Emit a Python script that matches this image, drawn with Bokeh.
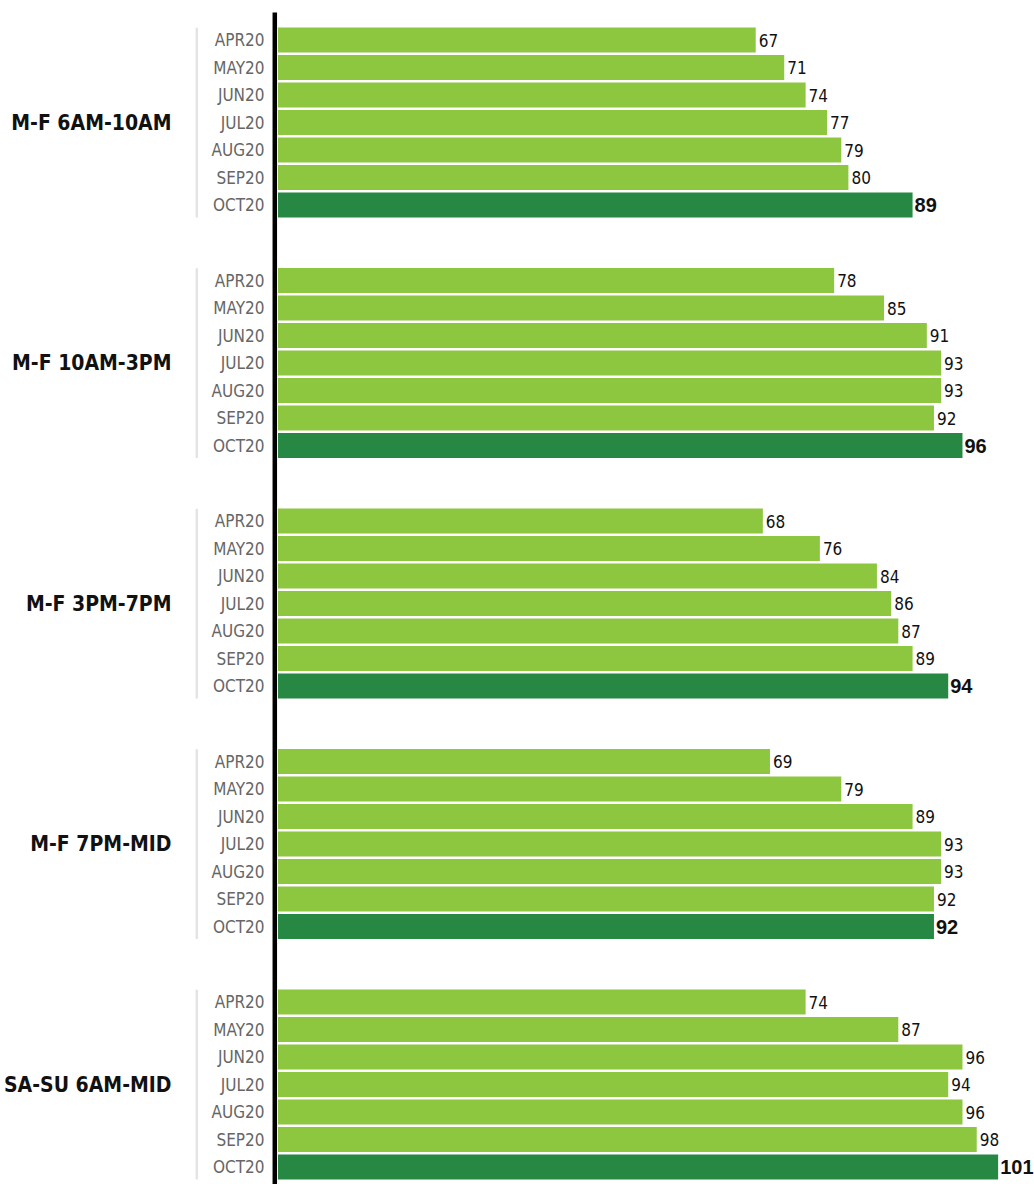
from bokeh.plotting import figure
from bokeh.models import Range1d, ColumnDataSource
from bokeh.core.properties import value
from bokeh.embed import file_html
from bokeh.resources import INLINE

# Dayparts and months
dayparts = ["M-F 6AM-10AM", "M-F 10AM-3PM", "M-F 3PM-7PM", "M-F 7PM-MID", "SA-SU 6AM-MID"]
months = ["APR20", "MAY20", "JUN20", "JUL20", "AUG20", "SEP20", "OCT20"]

# Index values per daypart, April through October
vals_6a_10a = [67, 71, 74, 77, 79, 80, 89]
vals_10a_3p = [78, 85, 91, 93, 93, 92, 96]
vals_3p_7p = [68, 76, 84, 86, 87, 89, 94]
vals_7p_mid = [69, 79, 89, 93, 93, 92, 92]
vals_wknd = [74, 87, 96, 94, 96, 98, 101]
series = [vals_6a_10a, vals_10a_3p, vals_3p_7p, vals_7p_mid, vals_wknd]

LIGHT = "#8dc63f"
DARK = "#268843"
COND = "DejaVu Sans Condensed"
NUM_BOLD = "Liberation Sans"

W, H = 1034, 1184
PX_PER_UNIT = 7.13          # horizontal scale
ZERO_PX = 277.5             # pixel position of value 0
ROW_PX = 27.5               # pixel pitch of one bar row
FIRST_ROW_PX = 39.5         # centre of the first bar
GROUP_STEP = 240.5 / ROW_PX # rows between the starts of two groups

x_start = -ZERO_PX / PX_PER_UNIT
x_end = (W - ZERO_PX) / PX_PER_UNIT
y_top = -FIRST_ROW_PX / ROW_PX
y_bottom = (H - FIRST_ROW_PX) / ROW_PX

def px_to_x(px):
    return (px - ZERO_PX) / PX_PER_UNIT

ys, rights, colors, mlabels, vtext, vx = [], [], [], [], [], []
big_ys, big_text, big_x = [], [], []
for g, vals in enumerate(series):
    for i, (m, v) in enumerate(zip(months, vals)):
        y = g * GROUP_STEP + i
        ys.append(y)
        rights.append(v)
        colors.append(DARK if i == len(months) - 1 else LIGHT)
        mlabels.append(m)
        if i == len(months) - 1:
            big_ys.append(y)
            big_text.append(str(v))
            big_x.append(v + 2 / PX_PER_UNIT)
        else:
            vtext.append(str(v))
            vx.append(v + 3 / PX_PER_UNIT)

small_ys = [y for k, y in enumerate(ys) if k % 7 != 6]

p = figure(width=W, height=H, output_backend="svg", toolbar_location=None,
           x_range=Range1d(x_start, x_end), y_range=Range1d(y_bottom, y_top),
           min_border=0, outline_line_color=None)
p.axis.visible = False
p.grid.visible = False
p.background_fill_color = "white"
p.border_fill_color = "white"

bars = ColumnDataSource(dict(y=ys, right=rights, color=colors, month=mlabels))
p.hbar(y="y", left=0, right="right", height=25 / ROW_PX, color="color",
       line_color=None, source=bars)

# month labels
p.text(x=px_to_x(264), y="y", text="month", source=bars, text_align="right",
       text_baseline="middle", text_font=value(COND), text_font_size="17px",
       text_color="#666666")

# value labels
p.text(x=vx, y=small_ys, text=vtext, text_align="left", text_baseline="middle",
       text_font=value(COND), text_font_size="17px", text_color="#111111")
p.text(x=big_x, y=big_ys, text=big_text, text_align="left", text_baseline="middle",
       text_font=value(NUM_BOLD), text_font_size="20px", text_font_style="bold",
       text_color="#111111")

# group labels and thin group brackets
g_y = [g * GROUP_STEP + 3 for g in range(len(dayparts))]
p.text(x=px_to_x(171), y=g_y, text=dayparts, text_align="right",
       text_baseline="middle", text_font=value(COND), text_font_size="21px",
       text_font_style="bold", text_color="#111111")
p.segment(x0=px_to_x(196.3), x1=px_to_x(196.3),
          y0=[g * GROUP_STEP - 0.45 for g in range(len(dayparts))],
          y1=[g * GROUP_STEP + 6.45 for g in range(len(dayparts))],
          line_color="#e1e4e8", line_width=2.5)

# vertical baseline
p.segment(x0=px_to_x(274.3), x1=px_to_x(274.3), y0=(12 - FIRST_ROW_PX) / ROW_PX,
          y1=y_bottom, line_color="black", line_width=4.5)

open("out.html", "w").write(file_html(p, INLINE))
